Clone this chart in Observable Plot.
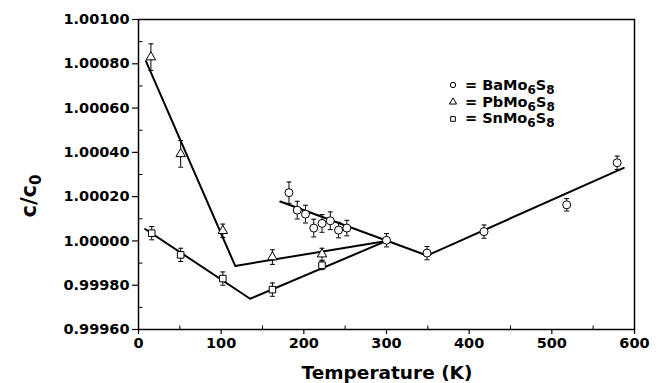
<!DOCTYPE html>
<html><head><meta charset="utf-8">
<script src="https://cdn.jsdelivr.net/npm/d3@7"></script>
<script src="https://cdn.jsdelivr.net/npm/@observablehq/plot@0.6"></script>
<style>
html,body{margin:0;padding:0;background:#fff;}
#wrap{position:relative;width:657px;height:383px;overflow:hidden;font-family:"DejaVu Sans",sans-serif;font-weight:bold;color:#000;}
#ylab{position:absolute;left:29px;top:196px;transform:translate(-50%,-50%) rotate(-90deg);font-size:21px;line-height:1;white-space:nowrap;}
#ylab sub{font-size:15px;vertical-align:-5px;line-height:0;}
#legend{position:absolute;left:447px;top:77px;font-size:14.5px;line-height:16.7px;}
#legend .row{display:flex;align-items:center;white-space:nowrap;height:16.7px;}
#legend svg{width:12px;height:12px;margin-right:6px;}
#legend .eq{margin-right:5px;}
#legend sub{font-size:12px;vertical-align:-4px;line-height:0;}
#xlab{position:absolute;left:387px;top:364px;transform:translateX(-50%);font-size:18.5px;line-height:1;white-space:nowrap;}
</style></head><body>
<div id="wrap"><div id="chart"></div>
<div id="ylab">c/c<sub>0</sub></div>
<div id="xlab">Temperature (K)</div>
<div id="legend"></div>
</div>
<script>
// BaMo6S8 (circles)
const baT   = [182, 192, 202, 212, 222, 232, 242, 252, 300, 349, 418, 518, 579];
const baV   = [1.000218, 1.000139, 1.000121, 1.000058, 1.000079, 1.000091, 1.000049, 1.000058, 1.000003, 0.999945, 1.000042, 1.000163, 1.000353];
const baErr = [0.000048, 0.00004, 0.00004, 0.00004, 0.00004, 0.00004, 0.000035, 0.000035, 0.00003, 0.00003, 0.00003, 0.000028, 0.00003];
// PbMo6S8 (triangles)
const pbT   = [15, 51, 102, 162, 222];
const pbV   = [1.00083, 1.000393, 1.000046, 0.999927, 0.99994];
const pbErr = [0.00006, 0.00006, 0.00003, 0.000033, 0.000027];
// SnMo6S8 (squares)
const snT   = [16, 51, 102, 162, 222];
const snV   = [1.000035, 0.999937, 0.99983, 0.99978, 0.99989];
const snErr = [0.00003, 0.00003, 0.00003, 0.00003, 0.00002];
// fitted lines (T, c/c0)
const baFitT = [171.5, 349, 587];
const baFitV = [1.000178, 0.999934, 1.00033];
const pbFitT = [9, 117, 300];
const pbFitV = [1.000812, 0.999887, 1.0];
const snFitT = [8, 135, 300];
const snFitV = [1.000054, 0.999739, 1.0];
// ticks
const xTicks = [0, 100, 200, 300, 400, 500, 600];
const xMinor = [50, 150, 250, 350, 450, 550];
const yTicks = [0.9996, 0.9998, 1.0, 1.0002, 1.0004, 1.0006, 1.0008, 1.001];
const yMinor = [0.9997, 0.9999, 1.0001, 1.0003, 1.0005, 1.0007, 1.0009];

const pts = (T, V, E) => T.map((t, i) => ({T: t, v: V[i], e: E ? E[i] : 0}));
const ba = pts(baT, baV, baErr), pb = pts(pbT, pbV, pbErr), sn = pts(snT, snV, snErr);
const fits = [pts(baFitT, baFitV), pts(pbFitT, pbFitV), pts(snFitT, snFitV)];

const hbar = {draw(ctx){ ctx.moveTo(-2.5, 0); ctx.lineTo(2.5, 0); }};
const tickUp = {draw(ctx){ ctx.moveTo(0, 0); ctx.lineTo(0, -4); }};
const tickRight = {draw(ctx){ ctx.moveTo(0, 0); ctx.lineTo(4, 0); }};

const errMarks = (d) => [
  Plot.ruleX(d, {x: "T", y1: p => p.v - p.e, y2: p => p.v + p.e, stroke: "black", strokeWidth: 1}),
  Plot.dot(d, {x: "T", y: p => p.v + p.e, symbol: hbar, stroke: "black", strokeWidth: 1}),
  Plot.dot(d, {x: "T", y: p => p.v - p.e, symbol: hbar, stroke: "black", strokeWidth: 1})
];

const chart = Plot.plot({
  width: 657, height: 383,
  marginLeft: 138, marginRight: 23, marginTop: 19, marginBottom: 54,
  style: {fontFamily: "DejaVu Sans, sans-serif", fontWeight: "bold", fontSize: "14.5px", color: "black", background: "white"},
  x: {domain: [0, 600]},
  y: {domain: [0.9996, 1.001]},
  marks: [
    Plot.frame({stroke: "black", strokeWidth: 1.5}),
    Plot.axisX({ticks: xTicks, tickSize: 5, tickPadding: 3, label: null, tickFormat: d3.format("d"), strokeWidth: 1.2}),
    Plot.axisY({ticks: yTicks, tickSize: 6, tickPadding: 3, label: null, tickFormat: d3.format(".5f"), strokeWidth: 1.2}),
    Plot.dot(xMinor, {x: d => d, frameAnchor: "bottom", symbol: tickUp, stroke: "black", strokeWidth: 1}),
    Plot.dot(yMinor, {y: d => d, frameAnchor: "left", symbol: tickRight, stroke: "black", strokeWidth: 1}),
    ...fits.map(f => Plot.line(f, {x: "T", y: "v", stroke: "black", strokeWidth: 2})),
    ...errMarks(ba), ...errMarks(pb), ...errMarks(sn),
    Plot.dot(ba, {x: "T", y: "v", symbol: "circle", r: 4, stroke: "black", fill: "white", strokeWidth: 1}),
    Plot.dot(pb, {x: "T", y: "v", symbol: "triangle", r: 3.5, stroke: "black", fill: "white", strokeWidth: 1}),
    Plot.dot(sn, {x: "T", y: "v", symbol: "square", r: 3.7, stroke: "black", fill: "white", strokeWidth: 1})
  ]
});
document.getElementById("chart").appendChild(chart);

// legend
const legendItems = [
  {sym: "circle", name: ["BaMo", "6", "S", "8"]},
  {sym: "triangle", name: ["PbMo", "6", "S", "8"]},
  {sym: "square", name: ["SnMo", "6", "S", "8"]}
];
const symMap = {circle: d3.symbolCircle, triangle: d3.symbolTriangle, square: d3.symbolSquare};
const leg = document.getElementById("legend");
for (const it of legendItems) {
  const row = document.createElement("div");
  row.className = "row";
  const path = d3.symbol(symMap[it.sym], 22)();
  row.innerHTML = `<svg viewBox="-6 -6 12 12"><path d="${path}" fill="none" stroke="black" stroke-width="1"/></svg>`
    + `<span class="eq">=</span><span>${it.name[0]}<sub>${it.name[1]}</sub>${it.name[2]}<sub>${it.name[3]}</sub></span>`;
  leg.appendChild(row);
}
</script>
</body></html>
